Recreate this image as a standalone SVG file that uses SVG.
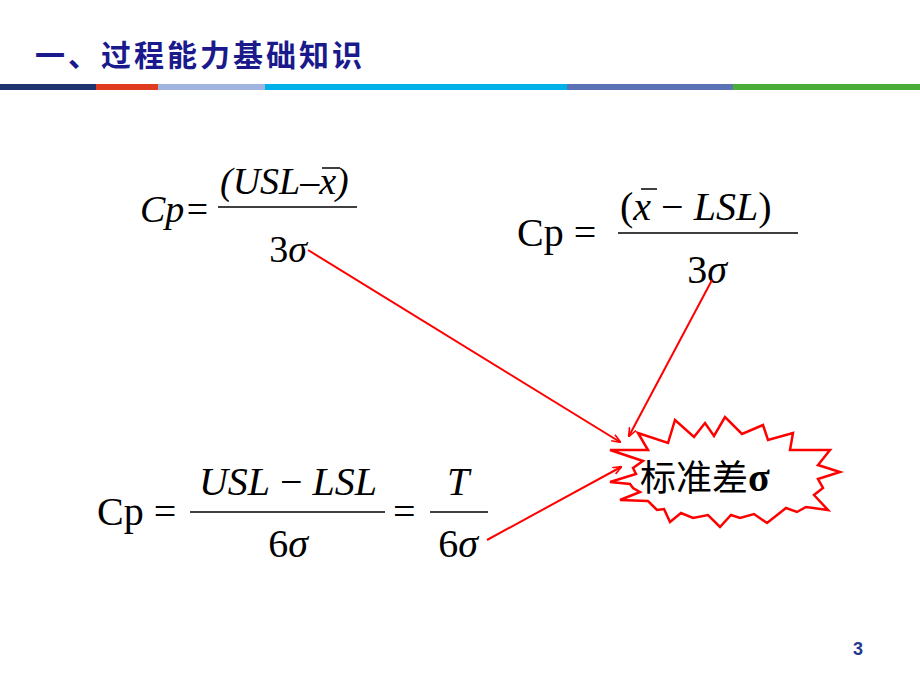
<svg xmlns="http://www.w3.org/2000/svg" width="920" height="690" viewBox="0 0 920 690">
<defs>
<style>
.m{font-family:"Liberation Serif","DejaVu Serif",serif;fill:#000}
.i{font-style:italic}
.fl{stroke:#000;stroke-width:1.5}
.ar{stroke:#ff0000;stroke-width:2;fill:none}
</style>
<marker id="ah" viewBox="0 0 10 10" refX="9" refY="5" markerWidth="9" markerHeight="9" orient="auto" markerUnits="userSpaceOnUse"><path d="M0,1 L10,5 L0,9" fill="none" stroke="#ff0000" stroke-width="1.8"/></marker>
</defs>
<rect width="920" height="690" fill="#fff"/>
<g id="title">
<text x="35" y="66" font-family="'Noto Sans CJK SC',sans-serif" font-size="30" font-weight="bold" fill="#1a1a8c" letter-spacing="3">一、过程能力基础知识</text>
<rect x="0" y="84" width="96" height="6" fill="#1f3370"/>
<rect x="96" y="84" width="62" height="6" fill="#e03a1f"/>
<rect x="158" y="84" width="107" height="6" fill="#9fb4de"/>
<rect x="265" y="84" width="302" height="6" fill="#00b0e8"/>
<rect x="567" y="84" width="166" height="6" fill="#5b73b5"/>
<rect x="733" y="84" width="187" height="6" fill="#4aad38"/>
</g>
<g id="f1">
<text class="m i" x="140" y="222" font-size="38">Cp=</text>
<line class="fl" x1="218" y1="207" x2="357" y2="207"/>
<text class="m i" x="220" y="194" font-size="38">(USL–<tspan>x</tspan>)</text>
<line class="fl" x1="322" y1="168" x2="340" y2="168"/>
<text class="m i" x="288" y="262" font-size="38" text-anchor="middle"><tspan font-style="normal">3</tspan>σ</text>
</g>
<g id="f2">
<text class="m" x="517" y="246" font-size="40">Cp =</text>
<line class="fl" x1="618" y1="233" x2="798" y2="233"/>
<text class="m" x="620" y="220" font-size="40">(<tspan class="i">x</tspan> − <tspan class="i">LSL</tspan>)</text>
<line class="fl" x1="641" y1="189" x2="657" y2="189"/>
<text class="m" x="707" y="283" font-size="40" text-anchor="middle">3<tspan class="i">σ</tspan></text>
</g>
<g id="f3">
<text class="m" x="97" y="525" font-size="40">Cp =</text>
<line class="fl" x1="190" y1="512" x2="385" y2="512"/>
<text class="m" x="288" y="495" font-size="40" text-anchor="middle"><tspan class="i">USL</tspan> − <tspan class="i">LSL</tspan></text>
<text class="m" x="288" y="557" font-size="40" text-anchor="middle">6<tspan class="i">σ</tspan></text>
<text class="m" x="393" y="525" font-size="40">=</text>
<line class="fl" x1="430" y1="512" x2="488" y2="512"/>
<text class="m i" x="458" y="495" font-size="40" text-anchor="middle">T</text>
<text class="m" x="458" y="557" font-size="40" text-anchor="middle">6<tspan class="i">σ</tspan></text>
</g>
<g id="burst">
<polygon points="610,450 648,450 638,433 668,443 675,420 694,437 705,423 714,436 725,417 742,434 763,425 768,440 793,433 790,450 830,450 818,465 840,472 818,479 823,488 814,495 828,510 806,507 797,512 786,508 767,523 754,514 740,518 731,515 720,527 708,515 693,518 681,513 670,522 664,509 657,510 648,501 620,500 640,492 633,488 630,484 610,482 636,474 633,468 643,461" fill="#fff" stroke="#ff0000" stroke-width="2.5" stroke-linejoin="miter"/>
<text x="640" y="491" font-family="'Noto Sans CJK SC',sans-serif" font-size="36" fill="#000">标准差<tspan font-family="'Liberation Serif',serif" font-weight="bold" font-size="40">σ</tspan></text>
</g>
<g id="connectors">
<line class="ar" x1="308" y1="250" x2="620" y2="442" marker-end="url(#ah)"/>
<line class="ar" x1="712" y1="280" x2="629" y2="436" marker-end="url(#ah)"/>
<line class="ar" x1="487" y1="540" x2="621" y2="467" marker-end="url(#ah)"/>
</g>
<text x="858" y="655" font-family="'Liberation Sans',sans-serif" font-size="18" font-weight="bold" fill="#1f3a8c" text-anchor="middle">3</text>
</svg>
